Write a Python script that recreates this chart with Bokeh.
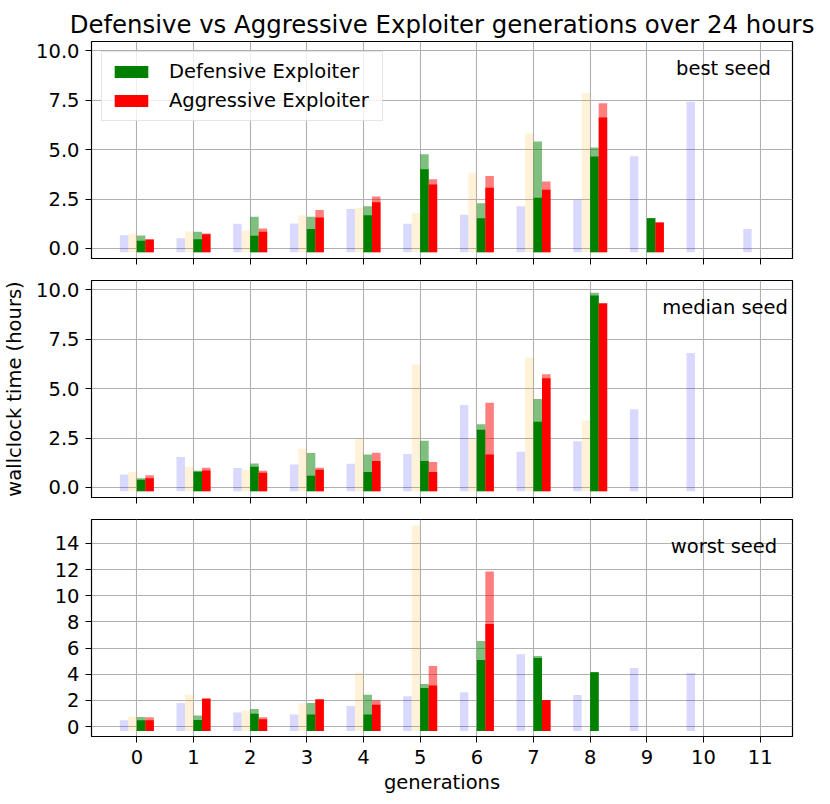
from bokeh.plotting import figure
from bokeh.layouts import column
from bokeh.models import Range1d, FixedTicker, Legend, LegendItem, Label, NumeralTickFormatter
from bokeh.embed import file_html
from bokeh.resources import INLINE

FONT = "DejaVu Sans"

generations = list(range(12))
xtick_labels = [str(g) for g in generations]

# best seed
best_blue = [0.67, 0.52, 1.25, 1.26, 2.0, 1.25, 1.7, 2.14, 2.46, 4.67, 7.42, 0.98]
best_orange = [0.74, 0.86, 0.91, 1.68, 2.04, 1.79, 3.83, 5.81, 7.86, None, None, None]
best_def_total = [0.66, 0.84, 1.6, 1.6, 2.14, 4.77, 2.29, 5.41, 5.11, 1.53, None, None]
best_def = [0.39, 0.47, 0.64, 0.98, 1.68, 4.01, 1.53, 2.56, 4.65, 1.53, None, None]
best_agg_total = [0.45, 0.76, 1.01, 1.94, 2.63, 3.5, 3.66, 3.39, 7.35, 1.31, None, None]
best_agg = [0.45, 0.72, 0.84, 1.57, 2.34, 3.24, 3.07, 2.97, 6.62, 1.31, None, None]

# median seed
median_blue = [0.66, 1.54, 0.98, 1.16, 1.2, 1.69, 4.17, 1.8, 2.33, 3.95, 6.8, None]
median_orange = [0.78, 1.05, 0.9, 1.96, 2.46, 6.22, 2.46, 6.56, 3.39, None, None, None]
median_def_total = [0.47, 0.84, 1.21, 1.74, 1.67, 2.36, 3.2, 4.47, 9.85, None, None, None]
median_def = [0.39, 0.79, 1.05, 0.59, 0.78, 1.34, 2.92, 3.32, 9.71, None, None, None]
median_agg_total = [0.61, 1.0, 0.84, 1.0, 1.76, 1.28, 4.28, 5.73, 9.33, None, None, None]
median_agg = [0.47, 0.86, 0.74, 0.9, 1.34, 0.78, 1.67, 5.53, 9.3, None, None, None]

# worst seed
worst_blue = [0.49, 1.81, 1.07, 0.92, 1.58, 2.32, 2.62, 5.53, 2.42, 4.48, 4.1, None]
worst_orange = [0.77, 2.44, 1.22, 1.78, 4.12, 15.37, None, None, None, None, None, None]
worst_def_total = [0.74, 0.84, 1.35, 1.81, 2.44, 3.26, 6.54, 5.4, 4.15, None, None, None]
worst_def = [0.49, 0.51, 0.97, 0.92, 0.92, 2.95, 5.09, 5.24, 4.15, None, None, None]
worst_agg_total = [0.72, 2.19, 0.72, 2.11, 2.01, 4.63, 11.86, 2.04, None, None, None, None]
worst_agg = [0.49, 2.11, 0.56, 2.06, 1.66, 3.13, 7.84, 2.04, None, None, None, None]

seed_names = ["best seed", "median seed", "worst seed"]
series_labels = ["Defensive Exploiter", "Aggressive Exploiter"]

BAR_W = 0.15
TICK_PX = "19.5px"


def pts(vals, offset):
    xs, ts = [], []
    for g, v in zip(generations, vals):
        if v is not None:
            xs.append(g + offset)
            ts.append(v)
    return xs, ts


def bars(p, vals, offset, color, alpha, bottom):
    xs, ts = pts(vals, offset)
    return p.vbar(x=xs, top=ts, bottom=bottom, width=BAR_W, fill_color=color,
                  fill_alpha=alpha, line_color=None)


def panel(data, y_range, bottom, yticks, fmt, name, name_pos, top=False, last=False, mid=False):
    blue, orange, dtot, d, atot, a = data
    p = figure(frame_width=701, frame_height=217, output_backend="svg", toolbar_location=None,
               x_range=Range1d(-0.80, 11.57), y_range=Range1d(*y_range),
               min_border_left=91, min_border_right=22,
               min_border_top=41 if top else 11,
               min_border_bottom=56 if last else 11)
    p.background_fill_color = "white"
    p.border_fill_color = "white"
    p.outline_line_color = "black"
    p.outline_line_width = 1.2
    for g in (p.xgrid[0], p.ygrid[0]):
        g.grid_line_color = "#b0b0b0"
        g.grid_line_width = 1.1
    p.xgrid.ticker = FixedTicker(ticks=generations)
    p.ygrid.ticker = FixedTicker(ticks=yticks)

    bars(p, blue, -0.225, "blue", 0.15, bottom)
    bars(p, orange, -0.075, "orange", 0.15, bottom)
    bars(p, dtot, 0.075, "green", 0.5, bottom)
    rg = bars(p, d, 0.075, "green", 1.0, bottom)
    bars(p, atot, 0.225, "red", 0.5, bottom)
    rr = bars(p, a, 0.225, "red", 1.0, bottom)

    xa = p.xaxis[0]
    xa.ticker = FixedTicker(ticks=generations)
    xa.major_label_overrides = {g: lab for g, lab in zip(generations, xtick_labels)}
    xa.minor_tick_line_color = None
    xa.major_tick_out = 6
    xa.major_tick_in = 0
    xa.axis_line_color = "black"
    xa.major_tick_line_color = "black"
    if last:
        xa.major_label_text_font_size = TICK_PX
        xa.major_label_text_font = FONT
        xa.major_label_text_color = "black"
        xa.major_label_standoff = 7
        xa.axis_label = "generations"
        xa.axis_label_text_font = FONT
        xa.axis_label_text_font_size = TICK_PX
        xa.axis_label_text_font_style = "normal"
        xa.axis_label_text_color = "black"
        xa.axis_label_standoff = 4
    else:
        xa.major_label_text_font_size = "1px"
        xa.major_label_text_alpha = 0
        xa.major_label_standoff = 0

    ya = p.yaxis[0]
    ya.ticker = FixedTicker(ticks=yticks)
    ya.formatter = NumeralTickFormatter(format=fmt)
    ya.minor_tick_line_color = None
    ya.major_tick_out = 6
    ya.major_tick_in = 0
    ya.major_label_standoff = 6
    ya.major_label_text_font = FONT
    ya.major_label_text_font_size = TICK_PX
    ya.major_label_text_color = "black"
    ya.axis_line_color = "black"
    ya.major_tick_line_color = "black"
    if mid:
        ya.axis_label = "wallclock time (hours)"
        ya.axis_label_text_font = FONT
        ya.axis_label_text_font_size = TICK_PX
        ya.axis_label_text_font_style = "normal"
        ya.axis_label_text_color = "black"
        ya.axis_label_standoff = 7

    p.add_layout(Label(x=name_pos[0], y=name_pos[1], text=name, text_align="right",
                       text_baseline="alphabetic", text_font=FONT,
                       text_font_size=TICK_PX, text_color="black"))
    if top:
        p.title.text = "Defensive vs Aggressive Exploiter generations over 24 hours"
        p.title.align = "center"
        p.title.text_font = FONT
        p.title.text_font_size = "24.4px"
        p.title.text_font_style = "normal"
        p.title.text_color = "black"
        p.title.standoff = 6
        leg = Legend(items=[LegendItem(label=series_labels[0], renderers=[rg]),
                            LegendItem(label=series_labels[1], renderers=[rr])],
                     location="top_left", margin=10, padding=8, spacing=6,
                     glyph_width=42, glyph_height=15, label_height=23, label_width=205,
                     label_standoff=17, label_text_font=FONT, label_text_font_size=TICK_PX,
                     label_text_color="black",
                     border_line_color="#cccccc", border_line_width=1,
                     background_fill_alpha=0.8)
        p.add_layout(leg, "center")
    return p


p1 = panel((best_blue, best_orange, best_def_total, best_def, best_agg_total, best_agg),
           (-0.51, 10.47), -0.2, [0, 2.5, 5, 7.5, 10], "0.0", seed_names[0], (11.19, 9.1), top=True)
p2 = panel((median_blue, median_orange, median_def_total, median_def, median_agg_total, median_agg),
           (-0.51, 10.47), -0.2, [0, 2.5, 5, 7.5, 10], "0.0", seed_names[1], (11.49, 9.09), mid=True)
p3 = panel((worst_blue, worst_orange, worst_def_total, worst_def, worst_agg_total, worst_agg),
           (-0.76, 15.83), -0.33, [0, 2, 4, 6, 8, 10, 12, 14], "0", seed_names[2], (11.30, 13.79), last=True)

layout = column(p1, p2, p3, spacing=0)
open("out.html", "w").write(file_html(layout, INLINE))
